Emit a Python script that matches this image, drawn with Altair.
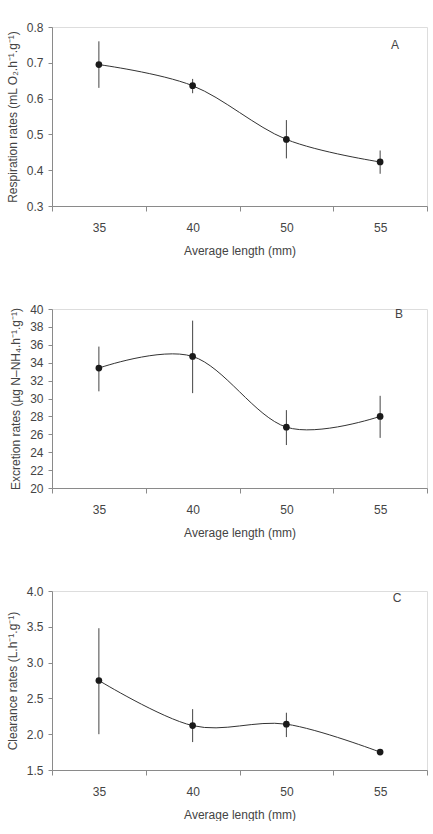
import altair as alt
import pandas as pd

lengths = ["35", "40", "50", "55"]

resp_mean = [0.695, 0.636, 0.486, 0.423]
resp_lo = [0.630, 0.615, 0.433, 0.390]
resp_hi = [0.760, 0.655, 0.540, 0.455]

excr_mean = [33.4, 34.7, 26.8, 28.0]
excr_lo = [30.8, 30.6, 24.8, 25.6]
excr_hi = [35.8, 38.7, 28.7, 30.3]

clear_mean = [2.75, 2.12, 2.14, 1.75]
clear_lo = [2.00, 1.89, 1.96, 1.73]
clear_hi = [3.48, 2.35, 2.30, 1.77]

resp_ticks = [0.3, 0.4, 0.5, 0.6, 0.7, 0.8]
excr_ticks = [20, 22, 24, 26, 28, 30, 32, 34, 36, 38, 40]
clear_ticks = [1.5, 2.0, 2.5, 3.0, 3.5, 4.0]

FONT = "Liberation Sans"
AX = "#8a8a8a"
TXT = "#444444"


def panel(mean, lo, hi, domain, ticks, fmt, ytitle, letter, lx, ly):
    df = pd.DataFrame({"len": lengths, "mean": mean, "lo": lo, "hi": hi})
    xaxis = alt.Axis(
        title="Average length (mm)", labelAngle=0, tickBand="extent",
        tickSize=5, labelPadding=11, titlePadding=12,
    )
    xs = alt.Scale(domain=lengths, paddingInner=0, paddingOuter=0)
    x = alt.X("len:N", sort=lengths, scale=xs, axis=xaxis, bandPosition=0.5)
    xr = alt.X("len:N", sort=lengths, scale=xs, bandPosition=0.5, axis=xaxis)
    yaxis = alt.Axis(values=ticks, format=fmt, title=ytitle, grid=False, tickSize=4,
                     labelOverlap=False, labelPadding=5, titlePadding=7)
    ys = alt.Scale(domain=domain, nice=False, zero=False)
    y = alt.Y("mean:Q", scale=ys, axis=yaxis)
    base = alt.Chart(df)
    line = base.mark_line(interpolate="cardinal", color="#333333", strokeWidth=1).encode(x=x, y=y)
    err = base.mark_rule(color="#444444", strokeWidth=1).encode(
        x=xr, y=alt.Y("lo:Q", scale=ys, axis=yaxis), y2="hi:Q")
    pts = base.mark_circle(size=45, color="#1a1a1a", opacity=1).encode(x=xr, y=y)
    lab = alt.Chart(pd.DataFrame({"t": [letter]})).mark_text(
        font=FONT, fontSize=12, color=TXT, align="center", baseline="middle"
    ).encode(text="t:N", x=alt.value(lx), y=alt.value(ly))
    return alt.layer(line, err, pts, lab).properties(width=375, height=179)


a = panel(resp_mean, resp_lo, resp_hi, [0.3, 0.8], resp_ticks, ".1f",
          "Respiration rates (mL O\u2082.h\u207b\u00b9.g\u207b\u00b9)", "A", 343, 18)
b = panel(excr_mean, excr_lo, excr_hi, [20, 40], excr_ticks, "d",
          "Excretion rates (\u00b5g N\u2013NH\u2084.h\u207b\u00b9.g\u207b\u00b9)", "B", 347, 5)
c = panel(clear_mean, clear_lo, clear_hi, [1.5, 4.0], clear_ticks, ".1f",
          "Clearance rates (L.h\u207b\u00b9.g\u207b\u00b9)", "C", 345, 7)

chart = alt.vconcat(a, b, c, spacing=45).properties(
    padding={"left": 5, "top": 20, "right": 0, "bottom": 0}
).configure_view(stroke=None).configure(background="white").configure_axis(
    labelOverlap=False, domainColor=AX, tickColor=AX, labelColor=TXT, titleColor=TXT,
    labelFontSize=12, titleFontSize=12, titleFontWeight="normal",
    labelFont=FONT, titleFont=FONT, grid=False,
)

chart.save("out.html", embed_options={"renderer": "svg", "actions": False})
